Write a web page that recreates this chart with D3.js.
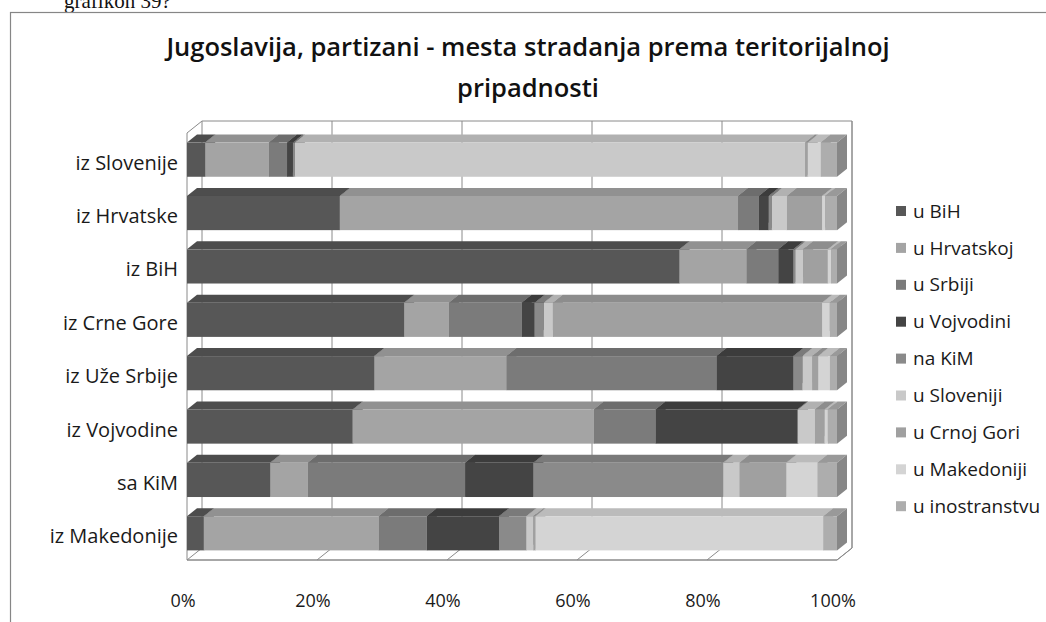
<!DOCTYPE html>
<html><head><meta charset="utf-8">
<script src="https://cdn.jsdelivr.net/npm/d3@7"></script>
<style>
body{margin:0;background:#fff;}
svg{display:block;font-family:"Open Sans",sans-serif;}
</style></head>
<body><svg id="c" width="1046" height="622"></svg>
<script>
// ---- data ----
const categories = ["iz Slovenije","iz Hrvatske","iz BiH","iz Crne Gore","iz Uže Srbije","iz Vojvodine","sa KiM","iz Makedonije"];
const seriesNames = ["u BiH","u Hrvatskoj","u Srbiji","u Vojvodini","na KiM","u Sloveniji","u Crnoj Gori","u Makedoniji","u inostranstvu"];
const uBiH        = [2.8, 23.5, 75.7, 33.4, 28.8, 25.5, 12.8, 2.6];
const uHrvatskoj  = [9.8, 61.2, 10.3, 6.9, 20.3, 37.1, 5.8, 26.9];
const uSrbiji     = [2.8, 3.2, 4.9, 11.2, 32.3, 9.5, 24.2, 7.4];
const uVojvodini  = [0.9, 1.5, 2.3, 2.0, 11.8, 21.8, 10.5, 11.1];
const naKiM       = [0.3, 0.5, 0.3, 1.4, 1.4, 0.1, 29.2, 4.2];
const uSloveniji  = [78.5, 2.3, 1.2, 1.4, 1.5, 2.6, 2.5, 1.1];
const uCrnojGori  = [0.4, 5.4, 3.8, 41.4, 0.9, 1.5, 7.2, 0.3];
const uMakedoniji = [2.0, 0.5, 0.5, 1.2, 1.8, 0.5, 4.8, 44.3];
const uInostr     = [2.5, 1.8, 0.9, 1.1, 1.1, 1.4, 3.0, 2.1];
const tickValues  = [0, 20, 40, 60, 80, 100];
const tickLabels  = ["0%","20%","40%","60%","80%","100%"];
const titleLines  = ["Jugoslavija, partizani - mesta stradanja prema teritorijalnoj","pripadnosti"];
const colors = ["#575757","#a4a4a4","#7b7b7b","#444444","#8a8a8a","#c9c9c9","#a0a0a0","#d4d4d4","#adadad"];

const seriesValues = [uBiH,uHrvatskoj,uSrbiji,uVojvodini,naKiM,uSloveniji,uCrnojGori,uMakedoniji,uInostr];
const rows = categories.map((c,i)=>{
  const o = {cat:c};
  seriesNames.forEach((s,j)=>o[s]=seriesValues[j][i]);
  return o;
});
const stacked = d3.stack().keys(seriesNames).offset(d3.stackOffsetExpand)(rows);

const svg = d3.select("#c");
// header text (cropped at the top in the original)
svg.append("text").attr("x",64).attr("y",8).attr("font-family","Liberation Serif, serif")
  .attr("font-size",21).attr("fill","#111").text("grafikon 39?");
// chart border
svg.append("rect").attr("x",10.5).attr("y",12.5).attr("width",1060).attr("height",640)
  .attr("fill","#fff").attr("stroke","#868686").attr("stroke-width",1.2);

// scales
const x = d3.scaleLinear().domain([0,1]).range([187,837]);
const y = d3.scaleBand().domain(categories).range([133,560]).paddingInner(0.36).paddingOuter(0.18);
const wallDx = 15, wallDy = -12;
const barDx = 10, barDy = -8;
const yTop = 133, yBot = 560;

const g = svg.append("g");
const gc = "#8a8a8a";
g.append("path").attr("fill","none").attr("stroke",gc).attr("stroke-width",1)
  .attr("d",`M${x(0)},${yBot}L${x(0)},${yTop}L${x(0)+wallDx},${yTop+wallDy}L${x(1)+wallDx},${yTop+wallDy}L${x(1)+wallDx},${yBot+wallDy}L${x(1)},${yBot}Z`);
g.selectAll("line.grid").data(tickValues).join("line").attr("class","grid")
  .attr("x1",d=>x(d/100)+wallDx).attr("x2",d=>x(d/100)+wallDx)
  .attr("y1",yTop+wallDy).attr("y2",yBot+wallDy).attr("stroke",gc).attr("stroke-width",1);
g.selectAll("line.floor").data(tickValues).join("line").attr("class","floor")
  .attr("x1",d=>x(d/100)).attr("x2",d=>x(d/100)+wallDx)
  .attr("y1",yBot).attr("y2",yBot+wallDy).attr("stroke",gc).attr("stroke-width",1);
g.append("line").attr("x1",x(0)).attr("x2",x(1)).attr("y1",yBot).attr("y2",yBot).attr("stroke",gc);

// bars
categories.forEach((c,i)=>{
  const y0 = y(c), h = y.bandwidth();
  stacked.forEach((s,j)=>{
    const d = s[i];
    const x0 = x(d[0]), x1 = x(d[1]);
    if (x1 - x0 <= 0) return;
    const col = d3.color(colors[j]);
    const grp = g.append("g");
    grp.append("path").attr("fill",col.darker(0.35))
      .attr("d",`M${x0},${y0}L${x0+barDx},${y0+barDy}L${x1+barDx},${y0+barDy}L${x1},${y0}Z`);
    grp.append("path").attr("fill",col.darker(0.7))
      .attr("d",`M${x1},${y0}L${x1+barDx},${y0+barDy}L${x1+barDx},${y0+h+barDy}L${x1},${y0+h}Z`);
    grp.append("rect").attr("x",x0).attr("y",y0).attr("width",x1-x0).attr("height",h).attr("fill",col);
  });
});

// category labels
svg.selectAll("text.cat").data(categories).join("text").attr("class","cat")
  .attr("x",178).attr("y",d=>y(d)+y.bandwidth()/2+3).attr("dy","0.35em")
  .attr("text-anchor","end").attr("font-size",20).attr("fill","#1a1a1a").text(d=>d);
// tick labels
svg.selectAll("text.tick").data(tickValues).join("text").attr("class","tick")
  .attr("x",d=>x(d/100)-4).attr("y",601).attr("dy","0.35em")
  .attr("text-anchor","middle").attr("font-size",18).attr("fill","#1a1a1a").text((d,i)=>tickLabels[i]);
// title
svg.selectAll("text.title").data(titleLines).join("text").attr("class","title")
  .attr("x",528).attr("y",(d,i)=>47+i*41).attr("dy","0.35em")
  .attr("text-anchor","middle").attr("font-size",25.5).attr("font-weight",600).attr("fill","#111").text(d=>d);
// legend
const leg = svg.append("g").selectAll("g").data(seriesNames).join("g")
  .attr("transform",(d,i)=>`translate(896,${211+i*36.9})`);
leg.append("rect").attr("x",0).attr("y",-5).attr("width",10).attr("height",10).attr("fill",(d,i)=>colors[i]);
leg.append("text").attr("x",17).attr("dy","0.35em").attr("font-size",19).attr("fill","#1a1a1a").text(d=>d);
</script></body></html>
